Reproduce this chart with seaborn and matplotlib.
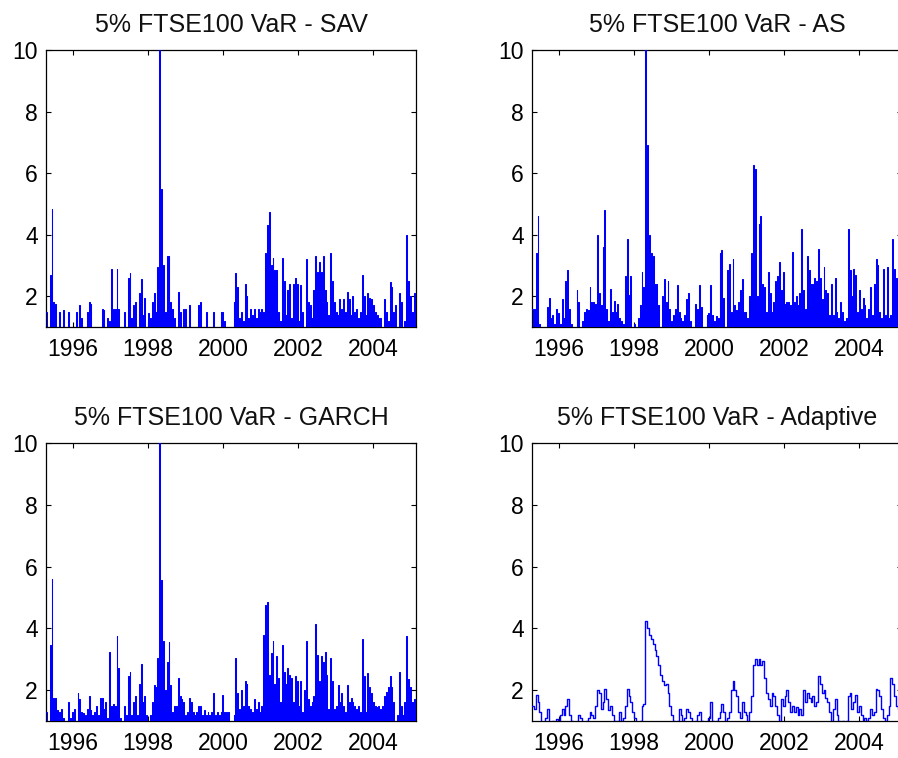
import numpy as np
import matplotlib
matplotlib.use("Agg")
import matplotlib.pyplot as plt
import seaborn as sns

# === Data (one value per ~2.5 weeks, mid-1995 to early 2005) ===
# each value is the peak of the ratio in that stretch; the daily series keeps
# falling back to the floor in between, which gives the "filled" look
START_YEAR = 1995.28
END_YEAR = 2005.14

sav = [
    1.5, 1.0, 2.7, 4.85, 1.8, 1.75, 1.0, 1.5, 1.0, 1.55,
    1.0, 1.0, 1.5, 1.0, 1.0, 1.0, 1.5, 1.0, 1.7, 1.3,
    1.0, 1.0, 1.5, 1.8, 1.75, 1.0, 1.0, 1.0, 1.0, 1.0,
    1.6, 1.55, 1.0, 1.3, 1.2, 2.9, 1.6, 1.6, 2.9, 1.6,
    1.0, 1.0, 1.5, 1.0, 2.6, 2.75, 1.3, 1.7, 1.8, 1.0,
    2.1, 2.55, 1.4, 1.95, 1.0, 1.45, 1.3, 1.8, 2.1, 1.5,
    2.95, 11.0, 5.5, 3.0, 1.5, 3.3, 3.3, 1.8, 1.6, 1.3,
    1.0, 2.15, 1.5, 1.0, 1.6, 1.6, 1.0, 1.7, 1.0, 1.0,
    1.0, 1.0, 1.7, 1.8, 1.0, 1.0, 1.5, 1.0, 1.0, 1.0,
    1.5, 1.0, 1.0, 1.0, 1.5, 1.5, 1.2, 1.0, 1.0, 1.0,
    1.0, 1.8, 2.75, 2.3, 1.3, 1.5, 1.2, 2.4, 2.0, 1.3,
    1.6, 1.4, 1.6, 1.3, 1.6, 1.5, 1.6, 1.5, 3.4, 4.3,
    4.75, 3.0, 3.25, 2.85, 2.85, 1.5, 1.2, 3.25, 2.5, 1.4,
    2.2, 2.4, 1.3, 2.4, 2.6, 2.4, 1.2, 2.35, 1.5, 1.0,
    3.2, 1.8, 1.7, 1.3, 2.2, 3.3, 2.8, 3.1, 2.8, 3.3,
    2.2, 1.8, 1.4, 3.4, 2.5, 1.8, 1.5, 1.4, 1.9, 1.6,
    1.9, 1.5, 2.15, 1.9, 1.4, 2.0, 1.5, 1.6, 1.3, 1.5,
    2.7, 2.0, 1.4, 2.1, 1.95, 1.9, 1.7, 1.5, 1.4, 1.3,
    1.3, 1.0, 1.9, 1.5, 1.2, 2.45, 2.3, 1.5, 1.7, 1.0,
    2.1, 1.8, 1.0, 1.2, 4.0, 2.5, 2.0, 1.5, 2.1, 2.2,
]

as_var = [
    1.6, 1.6, 3.4, 4.6, 1.1, 1.0, 1.0, 1.0, 1.65, 1.95,
    1.3, 1.4, 1.1, 1.6, 1.45, 1.1, 1.9, 1.3, 2.5, 2.85,
    1.6, 1.1, 1.0, 1.0, 2.2, 1.8, 1.0, 1.2, 1.5, 1.6,
    1.55, 2.3, 1.8, 1.8, 1.75, 4.0, 2.1, 1.7, 3.6, 4.8,
    1.6, 1.2, 2.25, 1.5, 1.85, 1.5, 1.75, 1.3, 1.2, 1.1,
    2.65, 3.85, 2.05, 2.65, 1.0, 1.1, 1.0, 1.3, 1.7, 2.8,
    2.3, 10.5, 6.9, 4.0, 3.4, 3.3, 2.4, 2.4, 1.7, 1.0,
    2.0, 2.55, 1.8, 2.5, 1.6, 1.2, 1.4, 1.6, 2.35, 1.5,
    1.3, 1.2, 1.4, 1.9, 2.1, 1.2, 1.0, 1.0, 1.75, 1.6,
    2.35, 1.65, 1.0, 1.0, 1.4, 1.45, 2.35, 1.4, 1.2, 1.35,
    1.3, 3.4, 3.5, 1.95, 1.0, 2.85, 3.05, 1.5, 3.2, 1.7,
    1.55, 1.8, 2.2, 2.55, 1.5, 1.5, 1.3, 2.0, 3.4, 6.25,
    6.15, 2.0, 4.35, 4.6, 2.4, 2.3, 1.5, 2.8, 2.1, 1.5,
    1.8, 2.5, 2.65, 3.1, 2.2, 2.8, 1.75, 1.8, 1.8, 1.7,
    3.45, 1.8, 2.0, 1.7, 2.1, 4.2, 2.2, 1.6, 3.3, 2.85,
    2.4, 2.4, 2.6, 2.5, 3.55, 2.6, 1.9, 2.95, 2.2, 2.1,
    1.4, 2.4, 1.4, 2.6, 1.5, 1.3, 1.8, 1.5, 1.2, 1.3,
    4.2, 2.85, 2.0, 2.9, 2.7, 1.5, 2.2, 1.6, 1.95, 1.7,
    1.3, 1.6, 2.3, 1.4, 2.4, 3.2, 3.0, 1.5, 1.3, 2.9,
    1.4, 2.95, 1.3, 1.4, 3.85, 2.9, 2.6, 1.2, 2.0, 2.6,
]

garch = [
    1.3, 1.0, 3.45, 5.6, 1.75, 1.75, 1.35, 1.3, 1.4, 1.1,
    1.0, 1.0, 1.6, 1.1, 1.3, 1.4, 1.0, 1.9, 1.7, 1.3,
    1.25, 1.2, 1.4, 1.8, 1.35, 1.2, 1.3, 1.5, 1.2, 1.75,
    1.75, 1.4, 1.6, 1.1, 3.25, 1.5, 1.55, 1.5, 3.75, 2.7,
    1.1, 1.0, 1.5, 1.2, 2.45, 2.6, 1.2, 1.6, 1.8, 1.2,
    2.2, 2.85, 1.6, 1.8, 1.2, 1.0, 1.2, 1.6, 2.15, 2.1,
    3.05, 10.5, 5.55, 3.6, 2.0, 2.9, 3.55, 2.15, 1.3, 1.5,
    1.5, 2.4, 1.8, 1.7, 1.6, 1.2, 1.3, 1.75, 1.6, 1.3,
    1.2, 1.3, 1.5, 1.5, 1.2, 1.35, 1.2, 1.3, 1.2, 1.3,
    1.9, 1.2, 1.3, 1.2, 1.3, 1.85, 1.3, 1.3, 1.3, 1.0,
    1.0, 1.2, 3.05, 1.9, 1.4, 2.0, 1.5, 2.3, 2.2, 1.5,
    1.4, 1.3, 1.7, 1.4, 1.6, 1.3, 1.5, 3.8, 4.75, 4.85,
    2.5, 3.2, 3.6, 2.2, 3.1, 2.4, 1.6, 3.45, 2.6, 2.2,
    2.7, 2.5, 2.4, 1.6, 2.45, 2.3, 1.5, 2.3, 1.3, 2.0,
    3.6, 1.7, 1.5, 1.6, 1.8, 4.15, 3.15, 2.3, 3.1, 2.9,
    3.25, 2.5, 1.4, 3.05, 2.3, 1.4, 1.5, 2.15, 1.6, 1.9,
    1.5, 1.3, 2.15, 1.6, 1.75, 1.6, 1.5, 1.4, 1.5, 1.3,
    3.65, 2.45, 1.3, 2.55, 2.1, 1.9, 1.6, 1.5, 1.45, 1.5,
    1.4, 1.5, 1.8, 1.95, 2.1, 2.45, 2.1, 1.6, 1.0, 1.2,
    2.6, 1.5, 1.2, 1.6, 3.75, 2.35, 2.1, 1.6, 1.7, 2.15,
]

adaptive = [
    1.5, 1.4, 1.85, 1.6, 1.3, 0.9, 0.9, 1.1, 1.4, 0.9,
    0.9, 1.0, 0.9, 1.05, 0.9, 1.2, 1.4, 1.2, 1.5, 1.7,
    1.2, 1.0, 0.9, 0.9, 1.0, 1.2, 1.1, 0.9, 0.9, 1.0,
    1.1, 1.3, 1.2, 1.1, 1.5, 2.0, 1.9, 1.4, 1.6, 2.05,
    1.7, 1.35, 1.5, 1.2, 1.0, 0.9, 1.0, 1.3, 1.0, 1.1,
    1.5, 2.05, 1.8, 1.6, 1.3, 1.1, 0.9, 0.9, 1.0, 1.5,
    1.55, 4.25, 4.0, 3.8, 3.65, 3.5, 3.3, 3.1, 2.8, 2.5,
    2.3, 2.15, 2.2, 1.9, 1.5, 1.2, 1.0, 0.9, 1.0, 1.4,
    1.2, 1.0, 1.1, 1.4, 1.3, 1.1, 0.9, 0.9, 1.0, 1.2,
    1.3, 1.0, 0.9, 0.9, 1.0, 1.1, 1.6, 1.0, 0.9, 1.0,
    1.1, 1.3, 1.55, 1.3, 1.0, 1.1, 1.3, 2.0, 2.3, 2.0,
    1.8, 1.3, 1.1, 1.6, 1.3, 1.2, 1.0, 1.3, 1.8, 2.8,
    3.0, 2.8, 3.0, 2.8, 2.95, 2.4, 1.9, 1.7, 1.5, 1.9,
    1.8, 1.5, 1.2, 1.0, 1.7, 1.5, 1.8, 2.0, 1.6, 1.3,
    1.5, 1.3, 1.45, 1.2, 1.4, 1.2, 2.0, 1.6, 1.9, 1.75,
    1.6, 1.8, 1.5, 1.6, 2.45, 2.2, 1.9, 2.0, 1.75, 1.6,
    1.3, 1.0, 1.4, 1.7, 1.2, 1.0, 0.9, 1.0, 0.9, 1.0,
    1.8, 1.9, 1.4, 1.6, 1.85, 1.3, 1.5, 1.2, 1.0, 1.1,
    1.0, 1.1, 1.4, 1.2, 1.3, 2.05, 2.0, 1.8, 1.4, 1.1,
    1.0, 1.2, 1.5, 2.4, 2.2, 1.8, 1.5, 1.4, 1.6, 1.5,
]

# level the daily series drops back to between peaks (None = no drop)
floors = [0.9, 0.9, 0.9, None]

titles = [
    "5% FTSE100 VaR - SAV",
    "5% FTSE100 VaR - AS",
    "5% FTSE100 VaR - GARCH",
    "5% FTSE100 VaR - Adaptive",
]
year_ticks = [1996, 1998, 2000, 2002, 2004]
var_ticks = [2, 4, 6, 8, 10]

# === Style (matlab-ish boxed axes, ticks inside) ===
sns.set_style("ticks", {
    "xtick.direction": "in",
    "ytick.direction": "in",
    "xtick.top": True,
    "ytick.right": True,
    "axes.edgecolor": "black",
})
plt.rcParams["font.family"] = ["Liberation Sans", "DejaVu Sans"]

fig = plt.figure(figsize=(8.98, 7.58), dpi=100)
rects = [
    [0.0512, 0.5686, 0.412, 0.3654],
    [0.5924, 0.5686, 0.412, 0.3654],
    [0.0512, 0.0488, 0.412, 0.3668],
    [0.5924, 0.0488, 0.412, 0.3668],
]

for rect, series, floor, title in zip(rects, [sav, as_var, garch, adaptive], floors, titles):
    ax = fig.add_axes(rect)
    years = np.linspace(START_YEAR, END_YEAR, len(series))
    vals = np.asarray(series)
    if floor is not None:
        step = years[1] - years[0]
        x = np.column_stack([years, years + step / 2]).ravel()
        y = np.column_stack([vals, np.full_like(vals, floor)]).ravel()
        lw = 0.75
    else:
        x, y = years, vals
        lw = 1.0
    sns.lineplot(x=x, y=y, ax=ax, color="#0000ff", linewidth=lw,
                 drawstyle="steps-post", estimator=None, sort=False, zorder=3)
    ax.set_xlim(START_YEAR, END_YEAR + 0.01)
    ax.set_ylim(1, 10)
    ax.set_xticks(year_ticks)
    ax.set_xticklabels([str(y) for y in year_ticks])
    ax.set_yticks(var_ticks)
    ax.tick_params(axis="both", length=3.5, width=0.8, labelsize=16.5, colors="black")
    ax.tick_params(axis="x", pad=8)
    ax.tick_params(axis="y", pad=6)
    for s in ax.spines.values():
        s.set_linewidth(0.9)
        s.set_visible(True)
    ax.set_title(title, fontsize=18, pad=13, color="#111111")

fig.savefig("out.png", dpi=100)
